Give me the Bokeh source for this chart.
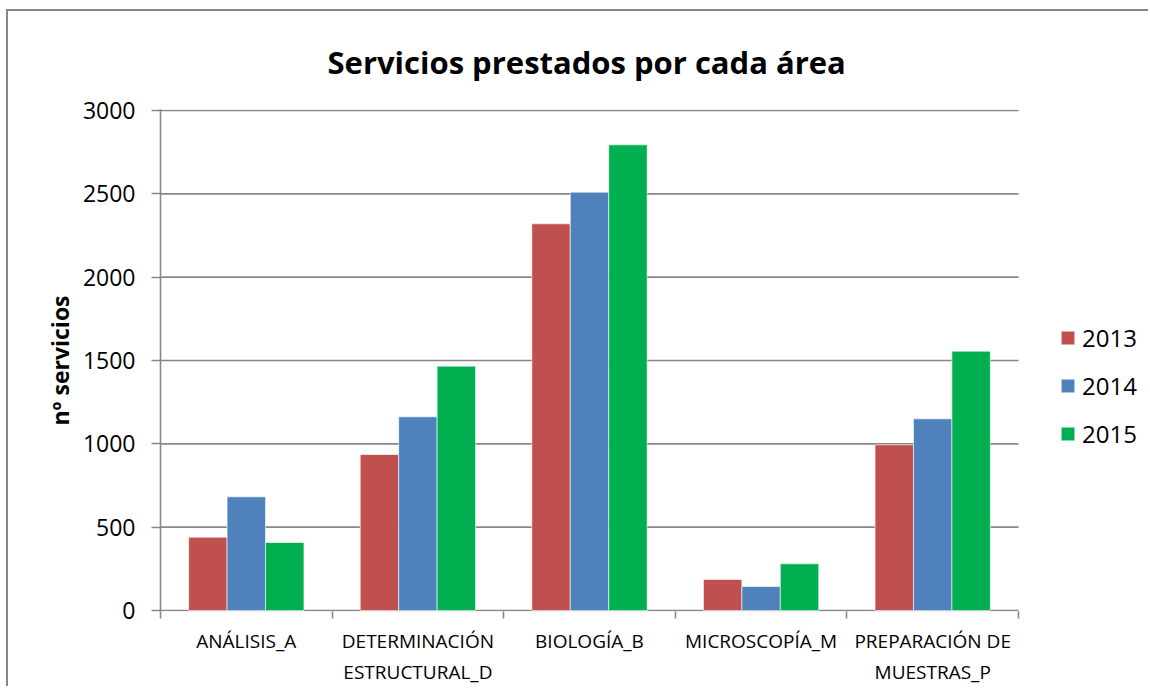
from bokeh.plotting import figure
from bokeh.models import Range1d, FixedTicker, Legend, LegendItem
from bokeh.embed import file_html
from bokeh.resources import INLINE

# ---- data ----
categories = ["ANÁLISIS_A", "DETERMINACIÓN\nESTRUCTURAL_D", "BIOLOGÍA_B",
              "MICROSCOPÍA_M", "PREPARACIÓN DE\nMUESTRAS_P"]
years = ["2013", "2014", "2015"]
v2013 = [440, 936, 2320, 186, 994]
v2014 = [682, 1162, 2510, 144, 1150]
v2015 = [408, 1466, 2794, 280, 1556]
y_ticks = [0, 500, 1000, 1500, 2000, 2500, 3000]

series = [v2013, v2014, v2015]
colors = ["#C0504D", "#4F81BD", "#00B050"]
FONT = "Open Sans"
GRAY = "#878787"

n = len(categories)
W, H = 1142, 677
left, top = 152, 98
frame_w, frame_h = W - left, 502
right = 0
bottom = H - top - frame_h
cat_px = 858.0 / n                     # pixel width of one category
x_end = frame_w / cat_px               # frame extends past the last category (room for legend)

p = figure(width=W, height=H, x_range=Range1d(0, x_end), y_range=Range1d(-6, 3006),
           output_backend="svg", toolbar_location=None,
           min_border_left=left, min_border_right=right,
           min_border_top=top, min_border_bottom=bottom,
           title="Servicios prestados por cada área")
p.styles = {"border-left": "2px solid #878787", "border-top": "2px solid #878787",
            "margin-left": "6px", "margin-top": "9px"}
p.outline_line_color = None
p.background_fill_color = "white"
p.border_fill_color = "white"

p.title.text_font = FONT
p.title.text_font_size = "31px"
p.title.text_font_style = "bold"
p.title.align = "left"
p.title.offset = 167
p.title.text_color = "black"
p.title.text_line_height = 0.75
p.title.standoff = 53

# horizontal gridlines, only across the category area
p.segment(x0=[0] * len(y_ticks), x1=[n] * len(y_ticks), y0=y_ticks, y1=y_ticks,
          line_color=GRAY, line_width=1.6)

bar_w = 0.224
offsets = [-bar_w, 0.0, bar_w]
renderers = []
for vals, col, off in zip(series, colors, offsets):
    xs = [i + 0.5 + off for i in range(n)]
    r = p.vbar(x=xs, top=vals, width=bar_w, bottom=0, fill_color=col,
               line_color="white", line_width=0.6)
    renderers.append(r)

# y axis
p.yaxis.ticker = FixedTicker(ticks=y_ticks)
p.yaxis.axis_line_color = GRAY
p.yaxis.axis_line_width = 1.6
p.yaxis.major_tick_line_color = GRAY
p.yaxis.major_tick_line_width = 1.6
p.yaxis.major_tick_out = 9
p.yaxis.major_tick_in = 0
p.yaxis.minor_tick_line_color = None
p.yaxis.major_label_text_font = FONT
p.yaxis.major_label_text_font_size = "23px"
p.yaxis.major_label_text_color = "black"
p.yaxis.major_label_standoff = 16
p.yaxis.axis_label = "nº servicios"
p.yaxis.axis_label_text_font = FONT
p.yaxis.axis_label_text_font_size = "23px"
p.yaxis.axis_label_text_font_style = "bold"
p.yaxis.axis_label_text_color = "black"
p.yaxis.axis_label_standoff = 4

# x axis (boundary ticks as minor ticks, labels at category centres)
centers = [i + 0.5 for i in range(n)]
bounds = [float(i) for i in range(n + 1)]
p.xaxis.ticker = FixedTicker(ticks=centers, minor_ticks=bounds)
p.xaxis.major_label_overrides = {c: lab for c, lab in zip(centers, categories)}
p.xaxis.axis_line_color = None
p.xaxis.major_tick_line_color = None
p.xaxis.major_tick_out = 0
p.xaxis.major_tick_in = 0
p.xaxis.minor_tick_line_color = GRAY
p.xaxis.minor_tick_line_width = 1.6
p.xaxis.minor_tick_out = 7
p.xaxis.minor_tick_in = 0
p.xaxis.major_label_text_font = FONT
p.xaxis.major_label_text_font_size = "19px"
p.xaxis.major_label_text_color = "black"
p.xaxis.major_label_standoff = 9

p.xgrid.visible = False
p.ygrid.visible = False

legend = Legend(items=[LegendItem(label=y, renderers=[r]) for y, r in zip(years, renderers)],
                location=(899, 161), orientation="vertical",
                glyph_width=17, glyph_height=17, label_standoff=6,
                label_text_font=FONT, label_text_font_size="24px",
                label_text_color="black", spacing=15, padding=0, margin=0,
                border_line_color=None, background_fill_alpha=0)
p.add_layout(legend)

open("out.html", "w").write(file_html(p, INLINE))
